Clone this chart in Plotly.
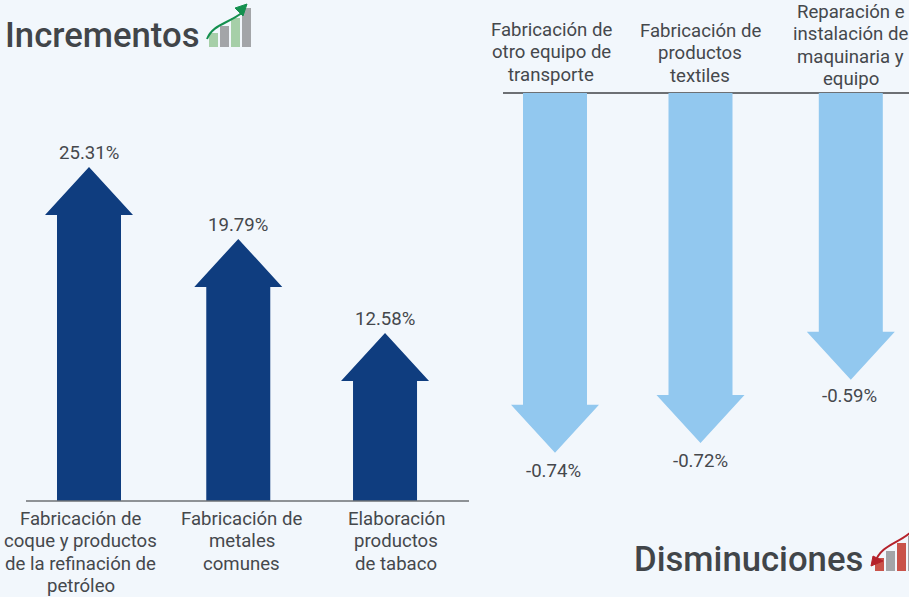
import plotly.graph_objects as go

W, H = 909, 597
BG = "#f2f7fc"
TXT = "#45484c"
FONT = "Roboto"
FS = 18.6
LINE = 22.4

inc_labels = ["Fabricación de<br>coque y productos<br>de la refinación de<br>petróleo",
              "Fabricación de<br>metales<br>comunes",
              "Elaboración<br>productos<br>de tabaco"]
inc_values = [25.31, 19.79, 12.58]
dec_labels = ["Fabricación de<br>otro equipo de<br>transporte",
              "Fabricación de<br>productos<br>textiles",
              "Reparación e<br>instalación de<br>maquinaria y<br>equipo"]
dec_values = [-0.74, -0.72, -0.59]

inc_x = [0, 1.012, 2.007]
dec_x = [0, 1, 2.033]
inc_label_x = [-0.057, 1.037, 2.083]
dec_label_x = [-0.027, 0.998, 2.033]
dec_value_dx = [-2, 0, -1]
dec_value_dy = [-18, -18, -16]
inc_label_first = [519, 519, 519]
dec_label_first = [30, 31, 12]

# axis calibration (pixels)
L_X0, L_PX = 89, 147.5
R_X0, R_PX = 555, 145.5
L_LINE, L_ZERO, L_SCALE = 501, 497, 13.04
R_BASE, R_SCALE = 93, 486.0
HALF_SHAFT, HALF_HEAD, HEAD = 32, 44, 48


def arrow(cx, val, base, xscale, yscale):
    s = HALF_SHAFT / xscale
    h = HALF_HEAD / xscale
    sign = 1 if val > 0 else -1
    neck = val - sign * HEAD / yscale
    xs = [cx - s, cx - s, cx - h, cx, cx + h, cx + s, cx + s, cx - s]
    ys = [base, neck, neck, val, neck, neck, base, base]
    return xs, ys


fig = go.Figure()
l_floor = (L_ZERO - L_LINE) / L_SCALE
for i, v in enumerate(inc_values):
    xs, ys = arrow(inc_x[i], v, l_floor, L_PX, L_SCALE)
    fig.add_trace(go.Scatter(x=xs, y=ys, mode="lines", fill="toself", fillcolor="#0f3d7f",
                             line=dict(width=0), xaxis="x", yaxis="y", hoverinfo="skip"))
for i, v in enumerate(dec_values):
    xs, ys = arrow(dec_x[i], v, 0, R_PX, R_SCALE)
    fig.add_trace(go.Scatter(x=xs, y=ys, mode="lines", fill="toself", fillcolor="#92c8ef",
                             line=dict(width=0), xaxis="x2", yaxis="y2", hoverinfo="skip"))


def px(x):
    return x / W


def py(y):
    return 1 - y / H


annotations = []
lab_font = dict(size=FS, color=TXT, family=FONT)
for i, v in enumerate(inc_values):
    annotations.append(dict(x=inc_x[i], xref="x", y=v, yref="y", text=f"{v:.2f}%", showarrow=False,
                            xanchor="center", yanchor="middle", yshift=14, font=lab_font))
for i, v in enumerate(dec_values):
    annotations.append(dict(x=dec_x[i], xref="x2", y=v, yref="y2", text=f"{v:.2f}%", showarrow=False,
                            xanchor="center", yanchor="middle", xshift=dec_value_dx[i], yshift=dec_value_dy[i],
                            font=lab_font))
for i, t in enumerate(inc_labels):
    for j, line in enumerate(t.split("<br>")):
        annotations.append(dict(x=inc_label_x[i], xref="x", y=py(inc_label_first[i] + j * LINE), yref="paper",
                                text=line, showarrow=False, xanchor="center", yanchor="middle", font=lab_font))
for i, t in enumerate(dec_labels):
    for j, line in enumerate(t.split("<br>")):
        annotations.append(dict(x=dec_label_x[i], xref="x2", y=py(dec_label_first[i] + j * LINE), yref="paper",
                                text=line, showarrow=False, xanchor="center", yanchor="middle", font=lab_font))
title_font = dict(size=34.7, color="#414549", family=FONT, weight=500)
annotations.append(dict(x=px(3), y=py(35), xref="paper", yref="paper", text="Incrementos",
                        showarrow=False, xanchor="left", yanchor="middle", font=title_font))
annotations.append(dict(x=px(632), y=py(559), xref="paper", yref="paper", text="Disminuciones",
                        showarrow=False, xanchor="left", yanchor="middle", font=title_font))

GREEN_L, GRAY, RED_B = "#a6cfa8", "#a3a5a8", "#c9534a"
ic1_lefts = [209, 220, 231, 242]
ic1_tops = [33, 26, 18, 8]
ic1_cols = [GREEN_L, GRAY, GREEN_L, GRAY]
ic2_lefts = [875, 886, 897, 908]
ic2_tops = [558, 551, 543, 536]
ic2_cols = [RED_B, GRAY, RED_B, GRAY]

shapes = [dict(type="line", xref="paper", yref="paper", x0=px(26), x1=px(469), y0=py(L_LINE), y1=py(L_LINE),
               line=dict(color="#6d7074", width=1.5))]
for l, t, c in zip(ic1_lefts, ic1_tops, ic1_cols):
    shapes.append(dict(type="rect", xref="paper", yref="paper", x0=px(l), x1=px(l + 9), y0=py(47), y1=py(t),
                       fillcolor=c, line=dict(width=0)))
for l, t, c in zip(ic2_lefts, ic2_tops, ic2_cols):
    shapes.append(dict(type="rect", xref="paper", yref="paper", x0=px(l), x1=px(l + 9), y0=py(571), y1=py(t),
                       fillcolor=c, line=dict(width=0)))


def P(x, y):
    return f"{px(x)},{py(y)}"


shapes.append(dict(type="path", xref="paper", yref="paper",
                   path=f"M{P(207,39)} C{P(213,24)} {P(228,24)} {P(243,12)}",
                   line=dict(color="#14904f", width=2)))
shapes.append(dict(type="path", xref="paper", yref="paper",
                   path=f"M{P(247,4)} L{P(235,8)} L{P(243,16)} Z",
                   fillcolor="#14904f", line=dict(color="#14904f", width=1)))
shapes.append(dict(type="path", xref="paper", yref="paper",
                   path=f"M{P(910,533)} C{P(895,545)} {P(882,545)} {P(875,562)}",
                   line=dict(color="#b5222b", width=2)))
shapes.append(dict(type="path", xref="paper", yref="paper",
                   path=f"M{P(871,566)} L{P(873,556)} L{P(883,561)} Z",
                   fillcolor="#b5222b", line=dict(color="#b5222b", width=1)))


def xr(x0, pxs, a, b):
    return [(a - x0) / pxs, (b - x0) / pxs]


fig.update_layout(
    width=W, height=H, autosize=False, showlegend=False,
    margin=dict(l=0, r=0, t=0, b=0), paper_bgcolor=BG, plot_bgcolor=BG,
    font=dict(family=FONT, color=TXT),
    annotations=annotations, shapes=shapes,
    xaxis=dict(domain=[26 / W, 469 / W], range=xr(L_X0, L_PX, 26, 469), visible=False, fixedrange=True),
    yaxis=dict(domain=[0, 1], range=[(L_ZERO - H) / L_SCALE, L_ZERO / L_SCALE], showgrid=False,
               showticklabels=False, ticks="", showline=False, zeroline=False, fixedrange=True),
    xaxis2=dict(domain=[503 / W, 1], range=xr(R_X0, R_PX, 503, 909), visible=False, fixedrange=True),
    yaxis2=dict(domain=[0, 1], range=[(R_BASE - H) / R_SCALE, R_BASE / R_SCALE], anchor="x2", showgrid=False,
                showticklabels=False, ticks="", showline=False, zeroline=True, zerolinecolor="#6d7074",
                zerolinewidth=1.5, fixedrange=True),
)
fig.write_html("out.html", config=dict(displayModeBar=False),
               post_script="document.body.style.margin='0';document.documentElement.style.overflow='hidden';")
